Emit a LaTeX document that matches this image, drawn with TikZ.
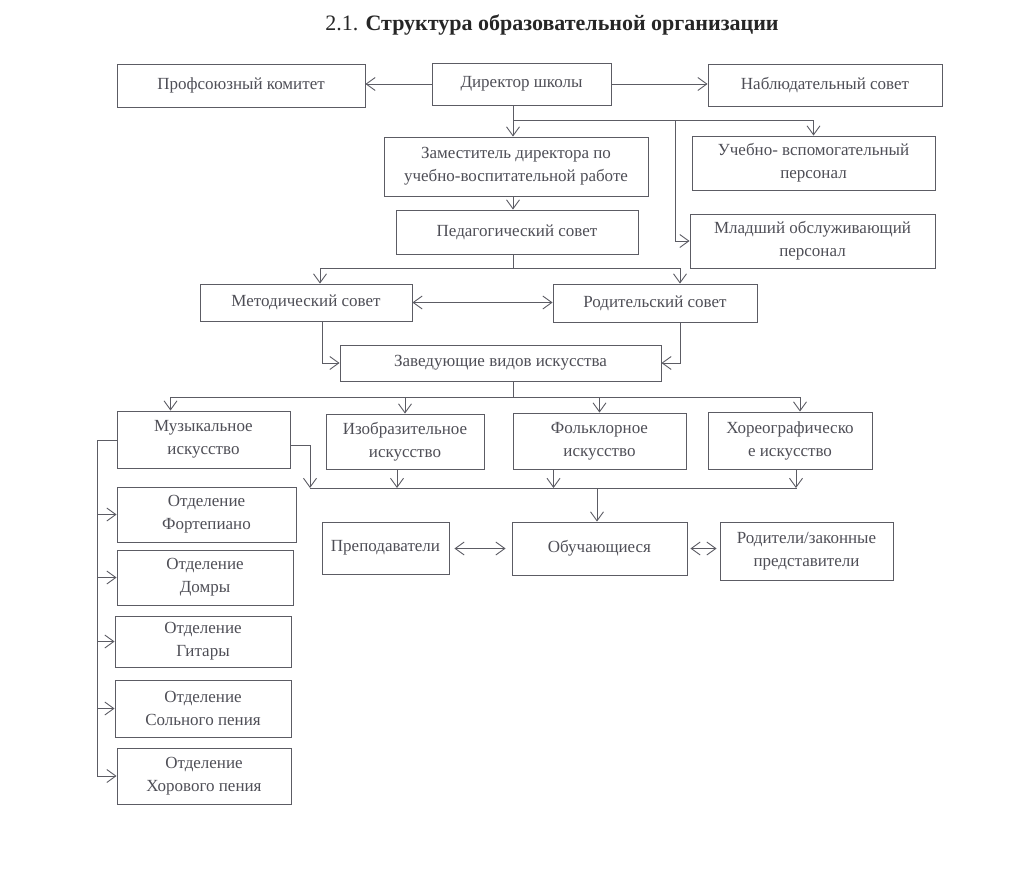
\documentclass[tikz,border=0pt]{standalone}
\usepackage{fontspec}
\setmainfont{Liberation Serif}
\usetikzlibrary{arrows.meta}

\definecolor{linegray}{RGB}{92,92,100}
\definecolor{textgray}{RGB}{78,78,86}

\tikzset{
  box/.style={draw=linegray, line width=0.9pt, text=textgray, align=center,
    inner sep=2pt, font=\fontsize{17}{23}\selectfont},
  arr/.style={draw=linegray, line width=0.9pt, -{Straight Barb[length=9pt,width=13pt]}},
  dbl/.style={draw=linegray, line width=0.9pt,
    {Straight Barb[length=9pt,width=13pt]}-{Straight Barb[length=9pt,width=13pt]}},
  bus/.style={draw=linegray, line width=0.9pt},
}

\begin{document}
\begin{tikzpicture}[x=1pt, y=-1pt]
    \useasboundingbox (0,0) rectangle (1024,894);

    % Title
    \node[font=\fontsize{22}{26}\selectfont, text=black!85] (title) at (552,25)
        {2.1. \textbf{Структура образовательной организации}};

    % Top row
    \node[box, minimum width=248, minimum height=43] (prof) at (241,85.5) {Профсоюзный комитет};
    \node[box, minimum width=179, minimum height=42] (dir) at (521.5,84) {Директор школы};
    \node[box, minimum width=234, minimum height=42] (nabl) at (825,85) {Наблюдательный совет};

    % Deputy and staff
    \node[box, minimum width=264, minimum height=59] (zam) at (516,166.5)
        {Заместитель директора по\\учебно-воспитательной работе};
    \node[box, minimum width=243, minimum height=54] (uch) at (813.5,163)
        {Учебно- вспомогательный\\персонал};
    \node[box, minimum width=242, minimum height=44] (ped) at (517,232) {Педагогический совет};
    \node[box, minimum width=245, minimum height=54] (mlad) at (812.5,241)
        {Младший обслуживающий\\персонал};

    % Councils
    \node[box, minimum width=212, minimum height=37] (metod) at (306,302.5) {Методический совет};
    \node[box, minimum width=204, minimum height=38] (rod) at (655,303) {Родительский совет};
    \node[box, minimum width=321, minimum height=36] (zav) at (500.5,363) {Заведующие видов искусства};

    % Kinds of art
    \node[box, minimum width=173, minimum height=57] (muz) at (203.5,439.5) {Музыкальное\\искусство};
    \node[box, minimum width=158, minimum height=55] (izo) at (405,441.5) {Изобразительное\\искусство};
    \node[box, minimum width=173, minimum height=56] (folk) at (599.5,441) {Фольклорное\\искусство};
    \node[box, minimum width=164, minimum height=57] (hor) at (790,440.5) {Хореографическо\\е искусство};

    % Participants
    \node[box, minimum width=127, minimum height=52] (prep) at (385.5,548) {Преподаватели};
    \node[box, minimum width=175, minimum height=53] (obuch) at (599.5,548.5) {Обучающиеся};
    \node[box, minimum width=173, minimum height=58] (rodit) at (806.5,551)
        {Родители/законные\\представители};

    % Music departments
    \node[box, minimum width=179, minimum height=55] (fort) at (206.5,514.5) {Отделение\\Фортепиано};
    \node[box, minimum width=176, minimum height=55] (domr) at (205,577.5) {Отделение\\Домры};
    \node[box, minimum width=176, minimum height=51] (git) at (203,641.5) {Отделение\\Гитары};
    \node[box, minimum width=176, minimum height=57] (sol) at (203,708.5) {Отделение\\Сольного пения};
    \node[box, minimum width=174, minimum height=56] (horp) at (204,776) {Отделение\\Хорового пения};

    % Bus points
    \coordinate (b1) at (513,120);
    \coordinate (b1m) at (675,120);
    \coordinate (b2) at (513,268);
    \coordinate (b2l) at (320,268);
    \coordinate (b2r) at (680,268);
    \coordinate (mz) at (322,330);
    \coordinate (rz) at (680,330);
    \coordinate (b3) at (513,397);
    \coordinate (b4l) at (310,488);
    \coordinate (b4r) at (797,488);
    \coordinate (b4) at (597,488);
    \coordinate (lv) at (97,440);

    % Director
    \draw[arr] (dir.west) -- (dir.west -| prof.east);
    \draw[arr] (dir.east) -- (dir.east -| nabl.west);
    \draw[bus] (b1 |- dir.south) -- (b1);
    \draw[arr] (b1) -- (b1 |- zam.north);
    \draw[arr] (b1) -| (uch.north);
    \draw[arr] (b1m) |- (mlad.west);
    \draw[arr] (b1 |- zam.south) -- (b1 |- ped.north);

    % Pedagogical council
    \draw[bus] (b2 |- ped.south) -- (b2);
    \draw[bus] (b2l) -- (b2r);
    \draw[arr] (b2l) -- (b2l |- metod.north);
    \draw[arr] (b2r) -- (b2r |- rod.north);
    \draw[dbl] (metod.east) -- (metod.east -| rod.west);
    \draw[arr] (mz |- metod.south) |- (zav.west);
    \draw[arr] (rz |- rod.south) |- (zav.east);

    % Heads of art kinds
    \draw[bus] (b3 |- zav.south) -- (b3);
    \draw[arr] (b3) -| ([xshift=-33]muz.north);
    \draw[arr] (b3) -| (izo.north);
    \draw[arr] (b3) -| (folk.north);
    \draw[arr] (b3) -| ([xshift=10]hor.north);

    % Lower bus
    \draw[arr] ([yshift=-6]muz.east) -| (b4l);
    \draw[arr] ([xshift=-8]izo.south) -- ([xshift=-8]izo.south |- b4l);
    \draw[arr] ([xshift=-46]folk.south) -- ([xshift=-46]folk.south |- b4l);
    \draw[arr] ([xshift=6]hor.south) -- ([xshift=6]hor.south |- b4l);
    \draw[bus] (b4l) -- (b4r);
    \draw[arr] (b4) -- (b4 |- obuch.north);
    \draw[dbl, shorten <=5, shorten >=6] (prep.east |- obuch.west) -- (obuch.west);
    \draw[dbl, shorten <=3, shorten >=3] (obuch.east) -- (obuch.east -| rodit.west);

    % Departments
    \draw[bus] (muz.west |- lv) -- (lv);
    \foreach \d in {fort,domr,git,sol,horp}
        \draw[arr] (lv) |- (\d.west);
\end{tikzpicture}
\end{document}
